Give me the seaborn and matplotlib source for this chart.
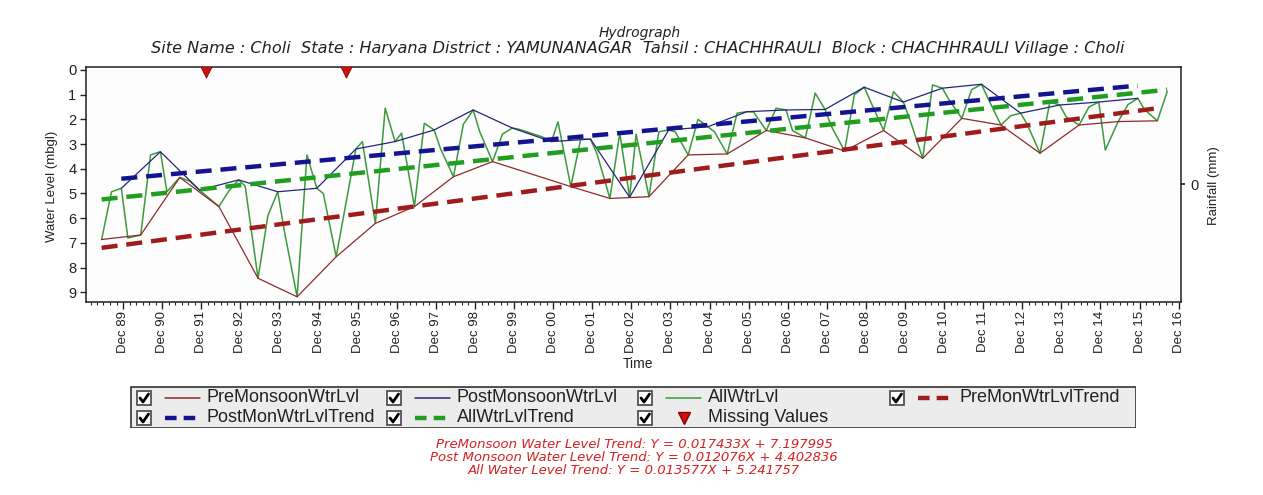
import numpy as np
import pandas as pd
import matplotlib
matplotlib.use("Agg")
import matplotlib.pyplot as plt
import matplotlib.dates as mdates
from matplotlib.patches import Rectangle
import seaborn as sns

sns.set_theme(style="white")
plt.rcParams["font.family"] = ["Liberation Sans", "DejaVu Sans"]

# ---------------------------------------------------------------------------
# Water level observations (metres below ground level)
# ---------------------------------------------------------------------------
# Pre-monsoon readings (May), 1989-2016 (nan = no reading)
pre_years = list(range(1989, 2017))
pre_level = [6.86, 6.68, 4.35, 5.53, 8.43, 9.18, 7.56, 6.21, 5.53, 4.32,
             3.71, np.nan, 4.72, 5.20, 5.13, 3.44, 3.40, 2.45, 2.75, 3.28,
             2.45, 3.58, 1.96, 2.23, 3.37, 2.23, 2.09, 2.06]

# Post-monsoon readings (November), 1989-2015
post_years = list(range(1989, 2016))
post_level = [4.79, 3.31, 4.86, 4.45, 4.93, 4.79, 3.20, 2.90, 2.43, 1.62,
              2.35, 2.90, 2.80, 5.15, 2.43, 2.30, 1.69, 1.62, 1.60, 0.70,
              1.30, 0.74, 0.58, 1.75, 1.42, 1.30, 1.15]

# January readings, 1990-2016 (nan = no reading)
jan_years = list(range(1990, 2017))
jan_level = [6.80, 4.93, np.nan, 4.70, 6.50, 5.00, 2.90, 2.56, 3.20, 2.50,
             2.40, 2.10, 3.40, 2.60, 2.50, 2.50, 1.70, 2.45, 2.30, 1.30,
             2.00, 1.20, 1.15, 2.20, 1.90, 3.24, 1.60]

# August readings, 1989-2016 (nan = no reading)
aug_years = list(range(1989, 2017))
aug_level = [4.93, 3.44, 4.50, 4.90, 5.90, 3.44, np.nan, 1.55, 2.16, 2.20,
             2.60, 2.70, 2.80, 2.56, 2.50, 2.00, 1.75, 1.55, 0.94, 1.00,
             0.88, 0.61, 0.80, 1.85, 1.30, 1.50, 1.40, 0.88]

# Readings flagged as missing (year, month)
missing_readings = [(1992, 1), (1995, 8)]

# Linear trend coefficients (slope per month, intercept)
pre_trend = (0.017433, 7.197995)
post_trend = (0.012076, 4.402836)
all_trend = (0.013577, 5.241757)

legend_labels = ["PreMonsoonWtrLvl", "PostMonsoonWtrLvl", "AllWtrLvl",
                 "PreMonWtrLvlTrend", "PostMonWtrLvlTrend", "AllWtrLvlTrend",
                 "Missing Values"]

# ---------------------------------------------------------------------------
def series(years, month, levels):
    return pd.DataFrame({
        "date": [pd.Timestamp(y, month, 15) for y in years],
        "level": levels,
    })

pre_df = series(pre_years, 5, pre_level)
post_df = series(post_years, 11, post_level)
jan_df = series(jan_years, 1, jan_level)
aug_df = series(aug_years, 8, aug_level)

all_df = pd.concat([jan_df, pre_df, aug_df, post_df]).sort_values("date")
all_df = all_df.dropna()
pre_df = pre_df.dropna()

missing_df = pd.DataFrame({
    "date": [pd.Timestamp(y, m, 15) for y, m in missing_readings],
    "level": [0.0] * len(missing_readings),
})


def trend_frame(df, coef):
    slope, intercept = coef
    d0, d1 = df["date"].iloc[0], df["date"].iloc[-1]
    months = [0, (d1.year - d0.year) * 12 + (d1.month - d0.month)]
    return pd.DataFrame({"date": [d0, d1],
                         "level": [intercept - slope * m for m in months]})


pre_tr = trend_frame(pre_df, pre_trend)
post_tr = trend_frame(post_df, post_trend)
all_tr = trend_frame(all_df, all_trend)

# ---------------------------------------------------------------------------
W, H = 1263, 495
fig = plt.figure(figsize=(W / 100, H / 100), dpi=100)
fig.patch.set_facecolor("white")


def fx(px):
    return px / W


def fy(py):
    return 1 - py / H


ax = fig.add_axes([fx(86), fy(302), fx(1181 - 86), (302 - 66.7) / H])
ax.set_facecolor("#fdfdfd")

c_pre, c_post, c_all = "#8e2a2a", "#25257a", "#3c9a3c"
c_pre_tr, c_post_tr, c_all_tr = "#a01c1c", "#141490", "#1f9e1f"
dash = (0, (3.6, 2.0))

sns.lineplot(data=all_df, x="date", y="level", ax=ax, color=c_all,
             lw=1.1, estimator=None, sort=False)
sns.lineplot(data=pre_df, x="date", y="level", ax=ax, color=c_pre,
             lw=0.9, estimator=None, sort=False)
sns.lineplot(data=post_df, x="date", y="level", ax=ax, color=c_post,
             lw=0.9, estimator=None, sort=False)
sns.lineplot(data=pre_tr, x="date", y="level", ax=ax, color=c_pre_tr,
             lw=3.2, linestyle=dash, estimator=None)
sns.lineplot(data=post_tr, x="date", y="level", ax=ax, color=c_post_tr,
             lw=3.2, linestyle=dash, estimator=None)
sns.lineplot(data=all_tr, x="date", y="level", ax=ax, color=c_all_tr,
             lw=3.2, linestyle=dash, estimator=None)
sns.scatterplot(data=missing_df, x="date", y="level", ax=ax, marker="v",
                s=120, color="#cc1111", edgecolor="#8a0000", linewidth=0.6,
                zorder=5)

ax.set_xlim(pd.Timestamp(1988, 12, 20), pd.Timestamp(2016, 12, 22))
ax.set_ylim(9.39, -0.13)
ax.set_yticks(range(0, 10))
ax.xaxis.set_major_locator(mdates.MonthLocator(bymonth=[12], bymonthday=1))
ax.xaxis.set_major_formatter(mdates.DateFormatter("Dec %y"))
ax.xaxis.set_minor_locator(mdates.MonthLocator(bymonth=[2, 4, 6, 8, 10]))
ax.tick_params(axis="x", which="major", direction="out", length=5,
               width=1, labelsize=9.5, rotation=90, pad=1.5,
               colors="#222222", bottom=True)
ax.tick_params(axis="x", which="minor", direction="out", length=2.5,
               width=0.8, bottom=True)
ax.tick_params(axis="y", direction="out", length=4, width=1,
               labelsize=10.5, colors="#222222", left=True, pad=3)
for s in ax.spines.values():
    s.set_color("#202020")
    s.set_linewidth(1.1)
ax.set_xlabel("")
ax.set_ylabel("")

ax2 = ax.twinx()
ax2.set_ylim(-1, 1)
ax2.set_yticks([0])
ax2.tick_params(axis="y", direction="out", length=3, labelsize=10.5,
                colors="#222222", right=True)
for s in ax2.spines.values():
    s.set_visible(False)

# Axis titles
fig.text(fx(52), fy(186), "Water Level (mbgl)", rotation=90, ha="center",
         va="center", fontsize=9.5, color="#222222")
fig.text(fx(1214), fy(186), "Rainfall (mm)", rotation=90, ha="center",
         va="center", fontsize=9.5, color="#222222")
fig.text(fx(638), fy(364), "Time", ha="center", va="center",
         fontsize=10, color="#222222")

# Header
fig.text(fx(640), fy(33), "Hydrograph", ha="center", va="center",
         fontsize=10, style="italic", color="#222222",
         family=["DejaVu Sans"])
fig.text(fx(638), fy(48),
         "Site Name : Choli  State : Haryana District : YAMUNANAGAR  "
         "Tahsil : CHACHHRAULI  Block : CHACHHRAULI Village : Choli",
         ha="center", va="center", fontsize=11.6, style="italic",
         color="#222222", family=["DejaVu Sans"])

# Legend panel
lax = fig.add_axes([fx(130), fy(428), fx(1006), 42 / H])
lax.set_xlim(0, 1006)
lax.set_ylim(42, 0)
lax.axis("off")
lax.add_patch(Rectangle((0.5, 0.5), 1005, 41, facecolor="#ececec",
                        edgecolor="#333333", lw=1.2))

entries = [
    (0, 0, "line", c_pre), (1, 0, "line", c_post), (2, 0, "line", c_all),
    (3, 0, "dash", c_pre_tr), (0, 1, "dash", c_post_tr),
    (1, 1, "dash", c_all_tr), (2, 1, "tri", "#cc1111"),
]
col_x = [7, 257, 508, 760]
row_y = [12, 32]
for (col, row, kind, color), label in zip(entries, legend_labels):
    cx, cy = col_x[col], row_y[row]
    lax.add_patch(Rectangle((cx, cy - 7), 14, 14, facecolor="white",
                            edgecolor="#444444", lw=1.2))
    lax.plot([cx + 3, cx + 6, cx + 11.5], [cy, cy + 4, cy - 4],
             color="black", lw=2)
    if kind == "line":
        lax.plot([cx + 28, cx + 63], [cy, cy], color=color, lw=1.1)
    elif kind == "dash":
        lax.plot([cx + 28, cx + 63], [cy, cy], color=color, lw=3.2,
                 linestyle=(0, (2.6, 1.6)))
    else:
        lax.plot([cx + 46], [cy], marker="v", ms=9, color=color,
                 markeredgecolor="#8a0000")
    lax.text(cx + 70, cy, label, ha="left", va="center", fontsize=13,
             color="#222222")

# Trend equations
trend_lines = [
    f"PreMonsoon Water Level Trend: Y = {pre_trend[0]:.6f}X + {pre_trend[1]:.6f}",
    f"Post Monsoon Water Level Trend: Y = {post_trend[0]:.6f}X + {post_trend[1]:.6f}",
    f"All Water Level Trend: Y = {all_trend[0]:.6f}X + {all_trend[1]:.6f}",
]
for i, t in enumerate(trend_lines):
    fig.text(fx(634), fy(445 + 12.5 * i), t, ha="center", va="center",
             fontsize=9.5, style="italic", color="#d42222",
             family=["DejaVu Sans"])

fig.savefig("out.png", dpi=100, facecolor="white")
